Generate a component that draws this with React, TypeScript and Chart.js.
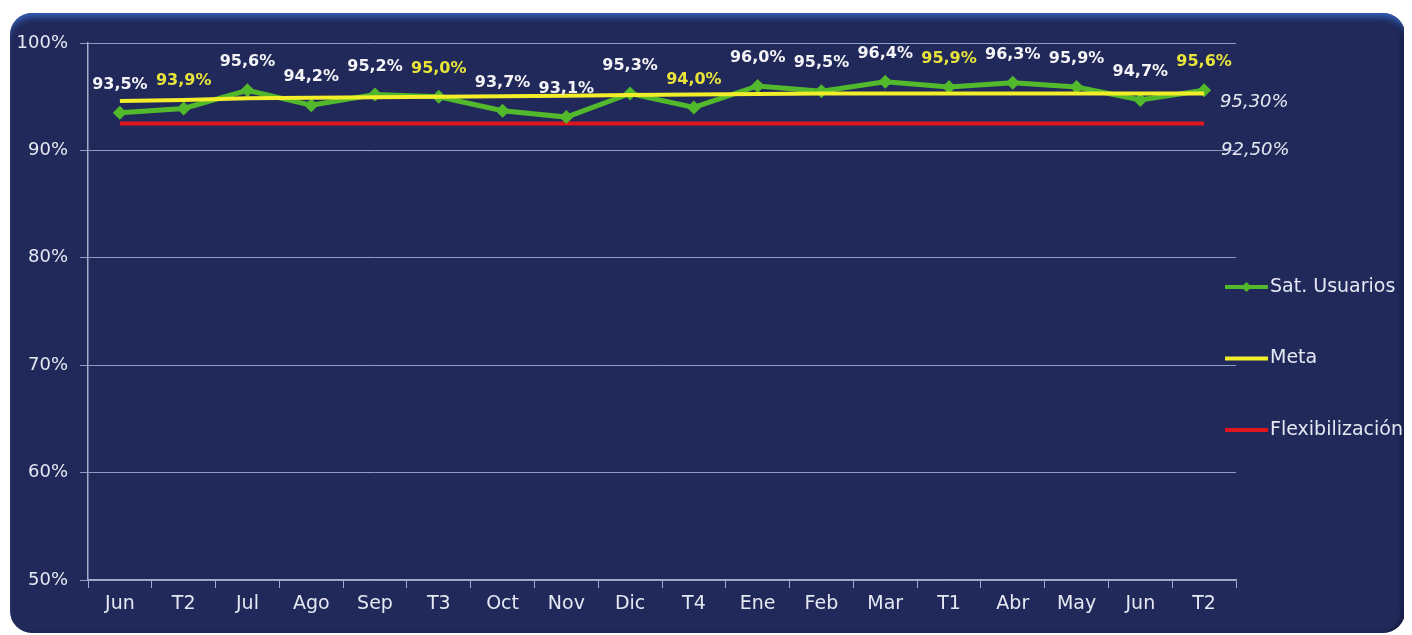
import React, { useEffect, useRef } from "react";
import { Chart, registerables } from "chart.js";

Chart.register(...registerables);

const categories = ["Jun", "T2", "Jul", "Ago", "Sep", "T3", "Oct", "Nov", "Dic", "T4", "Ene", "Feb", "Mar", "T1", "Abr", "May", "Jun", "T2"];
const satUsuarios = [93.5, 93.9, 95.6, 94.2, 95.2, 95.0, 93.7, 93.1, 95.3, 94.0, 96.0, 95.5, 96.4, 95.9, 96.3, 95.9, 94.7, 95.6];
const meta = [94.6, 94.7, 94.85, 94.9, 94.95, 95.0, 95.05, 95.1, 95.15, 95.2, 95.25, 95.3, 95.3, 95.3, 95.3, 95.3, 95.3, 95.3];
const flexibilizacion = [92.5, 92.5, 92.5, 92.5, 92.5, 92.5, 92.5, 92.5, 92.5, 92.5, 92.5, 92.5, 92.5, 92.5, 92.5, 92.5, 92.5, 92.5];
const yTicks = [50, 60, 70, 80, 90, 100];
const metaLabel = "95,30%";
const flexLabel = "92,50%";

const GREEN = "#52b82c";
const YELLOW = "#f2ee2a";
const RED = "#e0161e";
const TEXT = "#e4e8f2";
const FONT = "'DejaVu Sans', sans-serif";

const fmt = (v: number) => v.toFixed(1).replace(".", ",") + "%";

const extrasPlugin = {
  id: "extras",
  afterDatasetsDraw(chart: any) {
    const ctx = chart.ctx;
    const meta0 = chart.getDatasetMeta(0);
    const ys = chart.scales.y;
    ctx.save();
    // data labels
    ctx.font = `bold 16px ${FONT}`;
    ctx.textAlign = "center";
    ctx.textBaseline = "middle";
    meta0.data.forEach((pt: any, i: number) => {
      const isQ = categories[i].startsWith("T");
      ctx.fillStyle = isQ ? "#e8e43a" : "#f4f4f6";
      ctx.fillText(fmt(satUsuarios[i]), pt.x, pt.y - 28);
    });
    // right-side reference labels
    const area = chart.chartArea;
    ctx.font = `italic 18px ${FONT}`;
    ctx.textAlign = "left";
    ctx.fillStyle = TEXT;
    ctx.fillText(metaLabel, area.right - 16, ys.getPixelForValue(meta[meta.length - 1]) + 9);
    ctx.fillText(flexLabel, area.right - 15, ys.getPixelForValue(flexibilizacion[0]) + 27);
    // legend
    const items = [
      { label: "Sat. Usuarios", color: GREEN, marker: true },
      { label: "Meta", color: YELLOW, marker: false },
      { label: "Flexibilización", color: RED, marker: false },
    ];
    const x0 = area.right - 11;
    const x1 = x0 + 43;
    items.forEach((it, k) => {
      const y = area.top + 244 + k * 71.5;
      ctx.strokeStyle = it.color;
      ctx.lineWidth = 4;
      ctx.beginPath();
      ctx.moveTo(x0, y);
      ctx.lineTo(x1, y);
      ctx.stroke();
      if (it.marker) {
        ctx.fillStyle = it.color;
        ctx.beginPath();
        const cx = (x0 + x1) / 2;
        ctx.moveTo(cx, y - 5);
        ctx.lineTo(cx + 5, y);
        ctx.lineTo(cx, y + 5);
        ctx.lineTo(cx - 5, y);
        ctx.closePath();
        ctx.fill();
      }
      ctx.font = `19px ${FONT}`;
      ctx.fillStyle = TEXT;
      ctx.textAlign = "left";
      ctx.textBaseline = "middle";
      ctx.fillText(it.label, x1 + 2, y);
    });
    ctx.restore();
  },
};

export default function App() {
  const ref = useRef<HTMLCanvasElement | null>(null);
  useEffect(() => {
    if (!ref.current) return;
    const chart = new Chart(ref.current, {
      type: "line",
      data: {
        labels: categories,
        datasets: [
          {
            label: "Sat. Usuarios",
            data: satUsuarios,
            borderColor: GREEN,
            backgroundColor: GREEN,
            borderWidth: 5,
            pointStyle: "rectRot",
            pointRadius: 7,
            pointBackgroundColor: GREEN,
            pointBorderWidth: 0,
            order: 2,
          },
          {
            label: "Meta",
            data: meta,
            borderColor: YELLOW,
            backgroundColor: YELLOW,
            borderWidth: 4,
            pointRadius: 0,
            order: 1,
          },
          {
            label: "Flexibilización",
            data: flexibilizacion,
            borderColor: RED,
            backgroundColor: RED,
            borderWidth: 4,
            pointRadius: 0,
            order: 3,
          },
        ],
      },
      options: {
        responsive: false,
        animation: false,
        layout: { padding: { top: 30, right: 169, bottom: 0, left: 0 } },
        plugins: {
          legend: { display: false },
          tooltip: { enabled: false },
        },
        scales: {
          x: {
            offset: true,
            grid: {
              display: true,
              offset: true,
              drawOnChartArea: false,
              drawTicks: true,
              tickLength: 8,
              color: "#9fb0cc",
            },
            border: { color: "#9fb0cc", width: 1.5 },
            ticks: { color: TEXT, font: { family: FONT, size: 19 }, padding: 5, autoSkip: false, maxRotation: 0 },
            afterFit(s: any) {
              s.height = 53;
            },
          },
          y: {
            min: yTicks[0],
            max: yTicks[yTicks.length - 1],
            afterBuildTicks(s: any) {
              s.ticks = yTicks.map((v) => ({ value: v }));
            },
            grid: { color: "#8d9fc0", lineWidth: 1, tickLength: 8 },
            border: { color: "#9fb0cc", width: 1.5 },
            ticks: {
              color: TEXT,
              font: { family: FONT, size: 18 },
              padding: 12,
              callback: (v: any) => v + "%",
            },
            afterFit(s: any) {
              s.width = 78;
            },
          },
        },
      },
      plugins: [extrasPlugin],
    });
    return () => chart.destroy();
  }, []);

  return (
    <div
      style={{
        marginLeft: 2,
        marginTop: 5,
        width: 1395,
        height: 620,
        position: "relative",
        borderRadius: 22,
        overflow: "hidden",
        background: "#21295a",
        boxShadow: "inset 0 7px 6px -3px #3563bd, inset -4px 0 4px -1px #141a3c",
      }}
    >
      <canvas ref={ref} width={1395} height={620} style={{ position: "absolute", left: 0, top: 0 }} />
    </div>
  );
}
